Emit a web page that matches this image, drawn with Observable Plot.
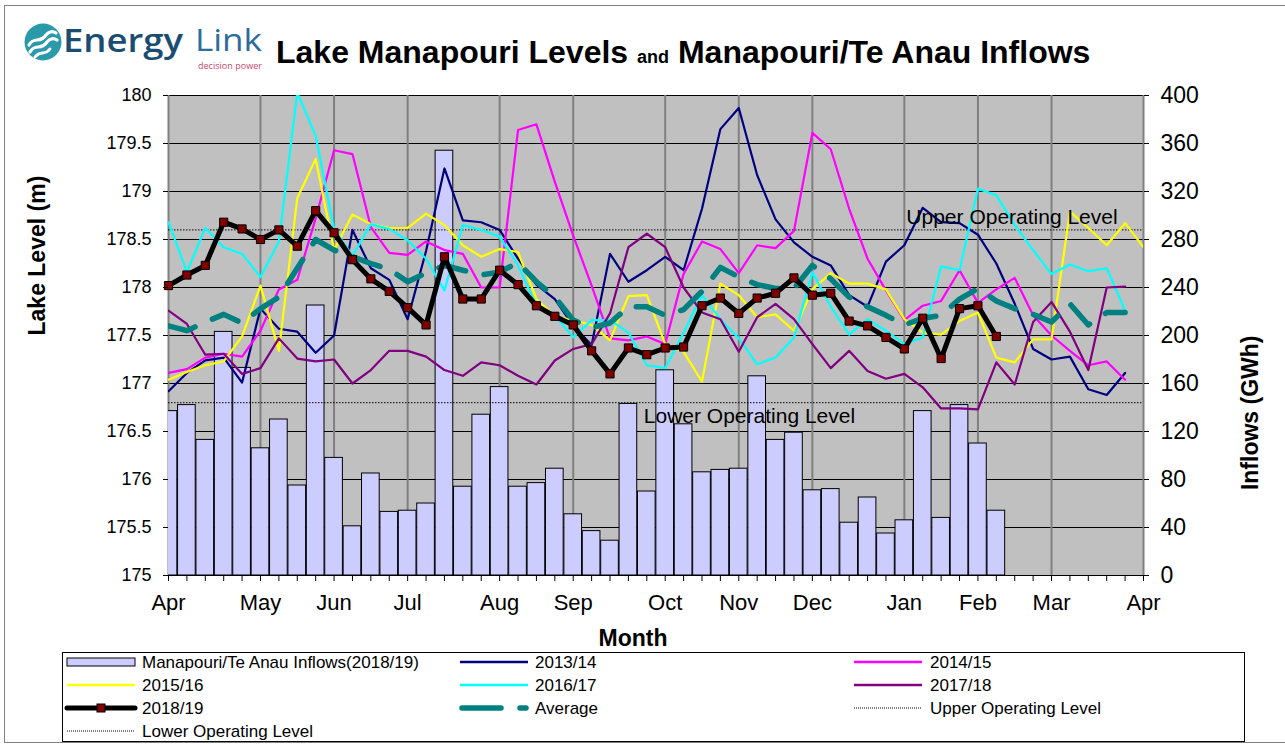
<!DOCTYPE html>
<html><head><meta charset="utf-8">
<script src="https://cdn.jsdelivr.net/npm/d3@7"></script>
<script src="https://cdn.jsdelivr.net/npm/@observablehq/plot@0.6"></script>
<style>
body{margin:0;background:#fff;font-family:"Liberation Sans",Arial,sans-serif;}
#wrap{position:relative;width:1285px;height:745px;overflow:hidden;background:#fff;}
#border{position:absolute;left:4px;top:5px;width:1290px;height:736px;border:1px solid #808080;}
#head{position:absolute;left:0;top:0;}
#chart{position:absolute;left:0;top:0;}
#legend{position:absolute;left:0;top:645px;}
</style></head>
<body>
<div id="wrap">
  <div id="border"></div>
  <div id="chart"></div>
  <svg id="head" width="1285" height="90" xmlns="http://www.w3.org/2000/svg">
    <circle cx="43" cy="42" r="18.5" fill="#2A9AAA"/>
    <path d="M29,45 C34,36 40,44 46,35 C49,31 53,31 56,33" fill="none" stroke="#fff" stroke-width="3.2" stroke-linecap="round"/>
    <path d="M30,52 C35,43 41,51 47,42 C50,38 54,38 57,40" fill="none" stroke="#fff" stroke-width="3.2" stroke-linecap="round"/>
    <path d="M35,57 C40,50 45,56 50,49" fill="none" stroke="#fff" stroke-width="3" stroke-linecap="round"/>
    <text x="63" y="52" font-family="Open Sans" font-weight="600" font-size="32" fill="#1B4D72" textLength="120" lengthAdjust="spacingAndGlyphs">Energy</text>
    <text x="195" y="51" font-family="Open Sans" font-weight="400" font-size="31" fill="#2C6D9C" textLength="67" lengthAdjust="spacingAndGlyphs">Link</text>
    <text x="198" y="68.5" font-family="Open Sans" font-size="9" fill="#C94A6B" textLength="64" lengthAdjust="spacingAndGlyphs">decision power</text>
    <text x="276" y="63" font-family="Liberation Sans, Arial, sans-serif" font-weight="bold" font-size="32" fill="#000">Lake Manapouri Levels <tspan font-size="18">and</tspan> Manapouri/Te Anau Inflows</text>
  </svg>
  <svg id="legend" width="1285" height="100" xmlns="http://www.w3.org/2000/svg"></svg>
</div>
<script>
// ---------- data ----------
const weeks = d3.range(54);
const monthWeeks = [0, 5, 9, 13, 18, 22, 27, 31, 35, 40, 44, 48, 53];
const monthLabels = ["Apr", "May", "Jun", "Jul", "Aug", "Sep", "Oct", "Nov", "Dec", "Jan", "Feb", "Mar", "Apr"];
const levelTicks = [175, 175.5, 176, 176.5, 177, 177.5, 178, 178.5, 179, 179.5, 180];
const inflowTicks = [0, 40, 80, 120, 160, 200, 240, 280, 320, 360, 400];
const upperLevel = 178.6;
const lowerLevel = 176.8;
const upperLabel = "Upper Operating Level";
const lowerLabel = "Lower Operating Level";
const upperLabelWeek = 40;
const lowerLabelWeek = 26;

const inflows2018 = [137,142,113,203,173,106,130,75,225,98,41,85,53,54,
  60,354,74,134,157,74,77,89,51,37,29,143,70,
  171,126,86,88,89,166,113,119,71,72,44,65,35,
  46,137,48,142,110,54];

const level2013 = [176.92,177.11,177.24,177.27,177.01,177.78,177.57,177.54,177.32,177.50,178.60,178.20,178.08,177.67,
  178.38,179.24,178.70,178.68,178.60,178.30,178.03,177.88,177.60,177.40,178.35,178.06,178.18,
  178.32,178.18,178.82,179.65,179.87,179.17,178.71,178.47,178.32,178.23,177.92,177.80,178.27,
  178.44,178.83,178.68,178.67,178.55,178.25,177.83,177.36,177.25,177.28,176.94,176.88,177.11];
const level2014 = [177.11,177.15,177.27,177.31,177.28,177.55,177.98,178.08,178.72,179.43,179.39,178.63,178.36,178.34,
  178.48,178.39,178.35,178.00,178.00,179.64,179.70,179.10,178.54,178.02,177.47,177.45,177.49,
  177.41,178.14,178.48,178.40,178.15,178.44,178.41,178.59,179.61,179.44,178.82,178.30,177.97,
  177.66,177.81,177.86,178.18,177.84,177.98,178.10,177.71,177.50,177.34,177.19,177.23,177.04];
const level2015 = [177.04,177.12,177.19,177.23,177.49,178.02,177.34,178.93,179.34,178.39,178.76,178.66,178.62,178.62,
  178.77,178.65,178.44,178.32,178.40,178.37,177.88,177.70,177.66,177.61,177.45,177.91,177.92,
  177.41,177.33,177.02,178.04,177.92,177.69,177.72,177.55,177.98,178.15,178.04,178.04,177.98,
  177.67,177.53,177.51,177.65,177.74,177.27,177.22,177.46,177.46,178.79,178.62,178.44,178.67,178.42];
const level2016 = [178.68,178.16,178.62,178.42,178.35,178.11,178.48,180.03,179.58,178.61,178.33,178.66,178.61,178.49,
  178.30,177.97,178.65,178.60,178.53,178.23,177.81,177.71,177.48,177.66,177.66,177.53,177.19,
  177.16,177.53,177.92,177.67,177.47,177.20,177.27,177.48,178.16,177.80,177.51,177.67,177.55,
  177.41,177.48,178.22,178.18,179.03,178.96,178.65,178.39,178.14,178.24,178.17,178.20,177.76];
const level2017 = [177.76,177.62,177.30,177.31,177.10,177.16,177.47,177.26,177.23,177.25,177.00,177.14,177.34,177.34,
  177.28,177.14,177.08,177.22,177.19,177.08,176.99,177.24,177.36,177.41,177.73,178.42,178.56,
  178.42,178.00,177.74,177.67,177.33,177.69,177.83,177.67,177.41,177.16,177.34,177.13,177.05,
  177.10,176.96,176.74,176.74,176.73,177.22,176.99,177.64,177.85,177.54,177.14,178.00,178.01];
const level2018 = [178.02,178.13,178.23,178.68,178.61,178.50,178.60,178.43,178.80,178.57,178.29,178.09,177.96,177.79,
  177.61,178.32,177.88,177.88,178.18,178.03,177.81,177.70,177.61,177.34,177.10,177.37,177.30,
  177.37,177.38,177.81,177.89,177.73,177.89,177.94,178.10,177.92,177.94,177.65,177.60,177.48,
  177.36,177.68,177.26,177.78,177.81,177.49];
const levelAverage = [177.60,177.55,177.64,177.72,177.63,177.78,177.90,178.20,178.50,178.39,178.32,178.25,178.19,178.06,
  178.15,178.23,178.18,178.13,178.16,178.26,178.06,177.90,177.66,177.58,177.63,177.80,177.80,
  177.71,177.77,177.96,178.21,178.11,178.03,177.99,177.99,178.23,178.09,177.90,177.80,177.71,
  177.61,177.68,177.71,177.88,177.99,177.86,177.78,177.72,177.64,177.83,177.61,177.74,177.74];

const seriesNames = ["2013/14", "2014/15", "2015/16", "2016/17", "2017/18"];
const seriesValues = [level2013, level2014, level2015, level2016, level2017];
const seriesColors = ["#000080", "#FF00FF", "#FFFF00", "#00FFFF", "#800080"];
const barName = "Manapouri/Te Anau Inflows(2018/19)";
const barColor = "#CCCCFF";
const currentName = "2018/19";
const averageName = "Average";
const averageColor = "#008080";
const markerColor = "#800000";

// inflow (GWh) -> lake level axis units: 0..400 maps onto 175..180
const toLevel = v => 175 + v * 5 / 400;
const FONT = "Liberation Sans, Arial, sans-serif";

const idx = (d, i) => i;
const val = d => d;

const marks = [
  Plot.frame({fill: "#C0C0C0"}),
  Plot.ruleY(levelTicks, {stroke: "#000", strokeWidth: 1}),
  Plot.ruleX(monthWeeks, {stroke: "#808080", strokeWidth: 2}),
  Plot.rect(inflows2018, {x1: (d, i) => i - 0.48, x2: (d, i) => i + 0.48, y1: 175, y2: d => toLevel(d),
    fill: barColor, stroke: "#000", strokeWidth: 1, clip: true}),
  Plot.ruleY([upperLevel, lowerLevel], {stroke: "#000", strokeWidth: 1, strokeDasharray: "1.5,1.5"}),
  ...seriesValues.map((vals, k) => Plot.line(vals, {x: idx, y: val, stroke: seriesColors[k], strokeWidth: 2.2, clip: true})),
  Plot.line(levelAverage, {x: idx, y: val, stroke: averageColor, strokeWidth: 5.5, strokeDasharray: "28,19", strokeLinecap: "round", clip: true}),
  Plot.line(level2018, {x: idx, y: val, stroke: "#000", strokeWidth: 5, clip: true}),
  Plot.dot(level2018, {x: idx, y: val, symbol: "square", r: 4.6, fill: markerColor, stroke: "#000", strokeWidth: 1}),
  Plot.text([upperLabel], {x: upperLabelWeek, y: upperLevel, text: d => d, textAnchor: "start", lineAnchor: "bottom",
    dx: 2, dy: -6, fontSize: 21, fill: "#000"}),
  Plot.text([lowerLabel], {x: lowerLabelWeek, y: lowerLevel, text: d => d, textAnchor: "start", lineAnchor: "top",
    dx: -3, dy: 5, fontSize: 21, fill: "#000"}),
  Plot.axisY(levelTicks, {anchor: "left", tickSize: 5, tickPadding: 12, fontSize: 18, tickFormat: d => String(d), label: null}),
  Plot.axisY(levelTicks, {anchor: "right", tickSize: 5, tickPadding: 12, fontSize: 23, tickFormat: d => String(Math.round((d - 175) * 80)), label: null}),
  Plot.axisX(weeks, {anchor: "bottom", tickSize: 6, tickFormat: () => "", label: null}),
  Plot.axisX(monthWeeks, {anchor: "bottom", tickSize: 0, tickPadding: 19, fontSize: 22, tickFormat: d => monthLabels[monthWeeks.indexOf(d)], label: null}),
  Plot.text(["Lake Level (m)"], {frameAnchor: "left", dx: -131, rotate: -90, fontSize: 23, fontWeight: "bold", fill: "#000"}),
  Plot.text(["Inflows (GWh)"], {frameAnchor: "right", dx: 107, rotate: -90, fontSize: 23, fontWeight: "bold", fill: "#000"}),
  Plot.text(["Month"], {frameAnchor: "bottom", dx: -23, dy: 70, fontSize: 23, fontWeight: "bold", fill: "#000"})
];

const chart = Plot.plot({
  width: 1285,
  height: 652,
  marginLeft: 168,
  marginRight: 142,
  marginTop: 95,
  marginBottom: 77,
  style: {fontFamily: FONT, fontSize: "18px", color: "#000", background: "transparent", overflow: "visible"},
  x: {domain: [0, 53], axis: null},
  y: {domain: [175, 180], axis: null},
  marks
});
document.getElementById("chart").append(chart);

// ---------- legend ----------
const lg = d3.select("#legend");
lg.append("rect").attr("x", 62.5).attr("y", 7.5).attr("width", 1182).attr("height", 89).attr("fill", "#fff").attr("stroke", "#000");
const colSw = [67, 460, 854], colTx = [142, 535, 930], rowY = [17, 40, 63, 86];
const items = [
  {name: barName, type: "bar"},
  {name: seriesNames[0], type: "line", color: seriesColors[0]},
  {name: seriesNames[1], type: "line", color: seriesColors[1]},
  {name: seriesNames[2], type: "line", color: seriesColors[2]},
  {name: seriesNames[3], type: "line", color: seriesColors[3]},
  {name: seriesNames[4], type: "line", color: seriesColors[4]},
  {name: currentName, type: "current"},
  {name: averageName, type: "average"},
  {name: upperLabel, type: "dotted"},
  {name: lowerLabel, type: "dotted"}
];
items.forEach((it, k) => {
  const c = k % 3, r = Math.floor(k / 3);
  const x0 = colSw[c], y = rowY[r], w = 68;
  const g = lg.append("g");
  if (it.type === "bar") g.append("rect").attr("x", x0).attr("y", y - 4).attr("width", w).attr("height", 8).attr("fill", barColor).attr("stroke", "#000");
  if (it.type === "line") g.append("line").attr("x1", x0).attr("x2", x0 + w).attr("y1", y).attr("y2", y).attr("stroke", it.color).attr("stroke-width", 2.5);
  if (it.type === "current") {
    g.append("line").attr("x1", x0).attr("x2", x0 + w).attr("y1", y).attr("y2", y).attr("stroke", "#000").attr("stroke-width", 5).attr("stroke-linecap", "round");
    g.append("rect").attr("x", x0 + w / 2 - 4).attr("y", y - 4).attr("width", 8).attr("height", 8).attr("fill", markerColor).attr("stroke", "#000");
  }
  if (it.type === "average") {
    g.append("line").attr("x1", x0 + 2).attr("x2", x0 + 41).attr("y1", y).attr("y2", y).attr("stroke", averageColor).attr("stroke-width", 5.5).attr("stroke-linecap", "round");
    g.append("line").attr("x1", x0 + 60).attr("x2", x0 + 66).attr("y1", y).attr("y2", y).attr("stroke", averageColor).attr("stroke-width", 5.5).attr("stroke-linecap", "round");
  }
  if (it.type === "dotted") g.append("line").attr("x1", x0).attr("x2", x0 + w).attr("y1", y).attr("y2", y).attr("stroke", "#000").attr("stroke-width", 1).attr("stroke-dasharray", "1,1");
  g.append("text").attr("x", colTx[c]).attr("y", y).attr("dy", "0.35em").attr("font-family", FONT).attr("font-size", 17).attr("fill", "#000").text(it.name);
});
</script>
</body></html>
